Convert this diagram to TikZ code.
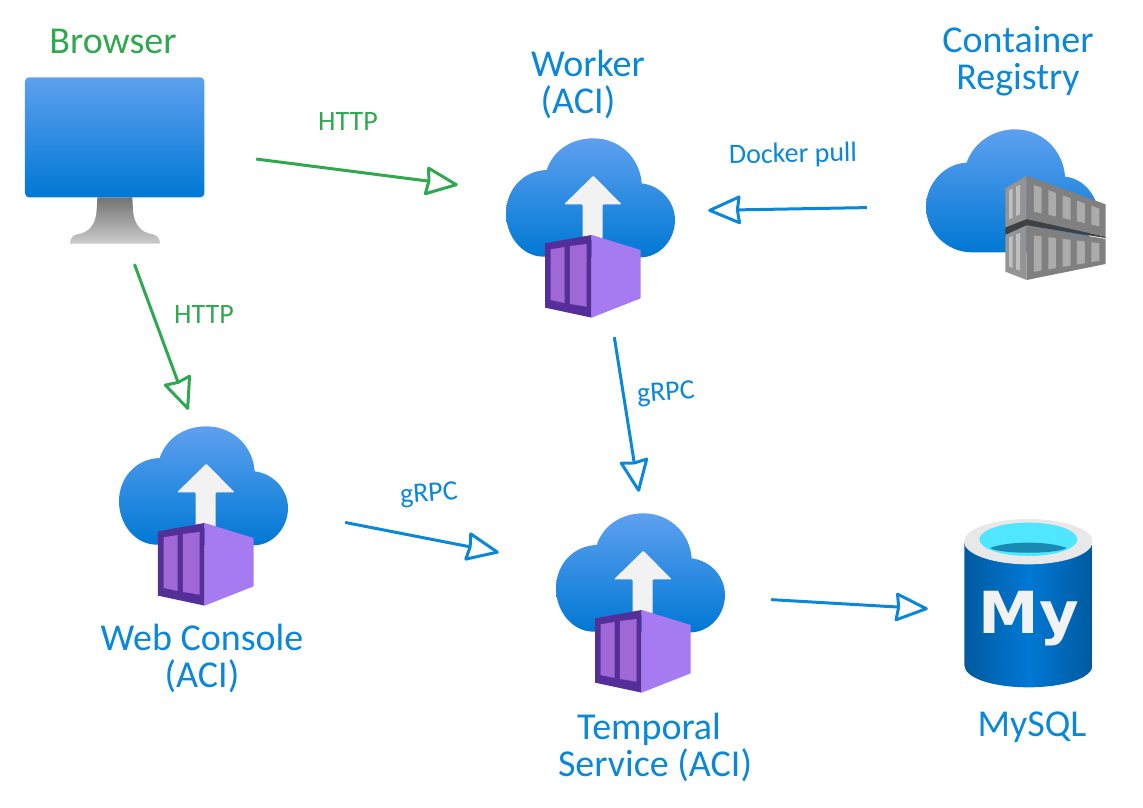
\documentclass[tikz,border=0pt]{standalone}
\usepackage{fontspec}
\setmainfont{Carlito}
\newfontfamily\logofont{DejaVu Sans}[FakeStretch=1.05]
\usetikzlibrary{positioning,arrows.meta}
\definecolor{linkblue}{HTML}{0A87D8}
\definecolor{linkgreen}{HTML}{2FA84F}
\definecolor{cloudtop}{HTML}{5EA0EF}
\definecolor{cloudlow}{HTML}{0078D4}
\definecolor{boxdark}{HTML}{552F99}
\definecolor{boxlight}{HTML}{A67AF0}
\definecolor{boxpanel}{HTML}{A067D6}
\definecolor{dbwater}{HTML}{50E6FF}
\definecolor{dbdeep}{HTML}{198AB3}
\tikzset{
aciicon/.pic={
    \shade[top color=cloudtop,bottom color=cloudlow] (170,150) .. controls (190,90) and (245,55) .. (310,55) .. controls (390,55) and (450,115) .. (455,190) .. controls (512,197) and (555,245) .. (555,300) .. controls (555,362) and (507,412) .. (452,412) -- (160,410) .. controls (98,410) and (48,350) .. (48,280) .. controls (48,208) and (100,152) .. (170,150) -- cycle;
    \fill[black!5,rounded corners=1pt] (310,167) -- (395,253) -- (338,253) -- (338,360) -- (278,360) -- (278,253) -- (222,253) -- cycle;
    \fill[boxdark] (165,370) -- (305,345) -- (305,593) -- (165,563) -- cycle;
    \fill[boxlight] (305,345) -- (452,390) -- (452,535) -- (305,593) -- cycle;
    \fill[boxpanel] (182,388) -- (224,381) -- (224,549) -- (182,540) -- cycle;
    \fill[boxpanel] (240,378) -- (290,372) -- (290,560) -- (240,552) -- cycle;
},
registryicon/.pic={
    \shade[top color=cloudtop,bottom color=cloudlow] (170,128) .. controls (190,68) and (250,28) .. (315,28) .. controls (395,28) and (460,90) .. (465,170) .. controls (520,175) and (565,225) .. (570,300) -- (500,397) -- (185,397) .. controls (110,397) and (48,335) .. (48,260) .. controls (48,190) and (105,130) .. (170,128) -- cycle;
    \fill[black!75] (286,322) -- (350,297) -- (587,350) -- (587,354) -- (350,316) -- (286,345) -- cycle;
    \fill[black!42] (286,205) -- (350,167) -- (350,297) -- (286,322) -- cycle;
    \fill[black!50] (350,167) -- (587,253) -- (587,350) -- (350,297) -- cycle;
    \fill[black!42] (286,345) -- (350,316) -- (350,480) -- (286,455) -- cycle;
    \fill[black!50] (350,316) -- (587,357) -- (587,432) -- (350,480) -- cycle;
    \foreach \a/\b in {372/395,415/438,458/482,501/525,544/568} {
        \fill[black!33] (\a,{187+.363*(\a-350)}) -- (\b,{187+.363*(\b-350)}) -- (\b,{270+.224*(\b-350)}) -- (\a,{270+.224*(\a-350)}) -- cycle;
        \fill[black!33] (\a,{344+.117*(\a-350)}) -- (\b,{344+.117*(\b-350)}) -- (\b,{459-.168*(\b-350)}) -- (\a,{459-.168*(\a-350)}) -- cycle;
    }
    \foreach \a/\b/\c/\d/\e/\f in {297/308/212/205/298/294,318/330/200/195/288/283,297/308/352/347/440/444,318/330/343/339/448/452} {
        \fill[black!25] (\a,\c) -- (\b,\d) -- (\b,\f) -- (\a,\e) -- cycle;
    }
},
mysqlicon/.pic={
    \shade[left color=cloudlow!75!black,right color=cloudlow!75!black,middle color=cloudlow] (43,95) -- (43,465) .. controls (43,505) and (130,532) .. (235,532) .. controls (340,532) and (428,505) .. (428,465) -- (428,95) -- cycle;
    \fill[black!9] (235,95) ellipse [x radius=193,y radius=68];
    \fill[dbwater] (235,88) ellipse [x radius=147,y radius=50];
    \fill[dbdeep] (120,114) .. controls (150,103) and (190,98) .. (235,98) .. controls (280,98) and (320,103) .. (350,114) .. controls (320,133) and (150,133) .. (120,114) -- cycle;
    \node (mysqlmark) [text=black!5,font=\logofont\bfseries\fontsize{58}{58}\selectfont,inner sep=0] at (236,325) {My};
},
browsericon/.pic={
    \shade[top color=black!55,bottom color=black!20] (262,382) -- (260,420) .. controls (258,465) and (235,488) .. (205,492) .. controls (190,494) and (180,505) .. (180,521) -- (450,521) .. controls (450,505) and (440,494) .. (425,492) .. controls (395,488) and (372,465) .. (369,420) -- (367,382) -- cycle;
    \shade[top color=cloudtop,bottom color=cloudlow,rounded corners=4pt] (45,22) rectangle (583,382);
}}
\begin{document}
\begin{tikzpicture}[x=1pt,y=-1pt,
spot/.style={rectangle,inner sep=0},
bigname/.style={font=\fontsize{38}{37}\selectfont,align=center,inner sep=0},
smallname/.style={font=\fontsize{28}{28}\selectfont,inner sep=0},
link/.style={line width=3pt,-{Stealth[open,round,length=35pt,width=30pt,inset=2pt]}}]
\useasboundingbox (0,0) rectangle (1143,808);
% icons
\pic[scale=.3333] at (10,70) {browsericon};
\pic[scale=.3333] at (490,120) {aciicon};
\pic[scale=.3333] at (910,120) {registryicon};
\pic[scale=.3333] at (103,408) {aciicon};
\pic[scale=.3333] at (540,495) {aciicon};
\pic[scale=.3333] at (950,510) {mysqlicon};
% spots the links end on
\node (browser) [spot,minimum width=283pt,minimum height=205pt] at (114.5,161.5) {};
\node (worker) [spot,minimum width=250pt,minimum height=218pt] at (583,228) {};
\node (registry) [spot,minimum width=298pt,minimum height=150pt] at (1016,205) {};
\node (webconsole) [spot,minimum width=284pt,minimum height=210pt] at (203,515) {};
\node (temporal) [spot,minimum width=272pt,minimum height=220pt] at (635,602) {};
\node (mysql) [spot,minimum width=201pt,minimum height=169pt] at (1028.5,603.5) {};
% names
\node (browsername) [bigname,text=linkgreen] at (113,41) {Browser};
\node (workername) [bigname,text=linkblue] at (588,84) {Worker\\\hspace*{-20pt}(ACI)};
\node (registryname) [bigname,text=linkblue] at (1018,61) {Container\\Registry};
\node (webname) [bigname,text=linkblue] at (202,658) {Web Console\\(ACI)};
\node (temporalname) [bigname,text=linkblue] at (655,747) {\hspace*{-12pt}Temporal\\Service (ACI)};
\node (mysqlname) [bigname,text=linkblue] at (1032,727) {MySQL};
% links
\draw[link,linkgreen] (browser.1) -- (worker.161);
\draw[link,linkgreen] (browser.-79.2) -- (webconsole.98);
\draw[link,linkblue] (registry.181) -- (worker.8.6);
\draw[link,linkblue] (worker.-74.6) -- (temporal.88.4);
\draw[link,linkblue] (webconsole.-3.6) -- (temporal.160.3);
\draw[link,linkblue] (temporal.1.7) -- (mysql.183.7);
\node (httpone) [smallname,text=linkgreen] at (348,122) {HTTP};
\node (httptwo) [smallname,text=linkgreen] at (204,315) {HTTP};
\node (pull) [smallname,text=linkblue,rotate=1] at (793,155) {Docker pull};
\node (grpcone) [smallname,text=linkblue,rotate=4] at (666,394) {gRPC};
\node (grpctwo) [smallname,text=linkblue,rotate=4] at (429,495) {gRPC};
\end{tikzpicture}
\end{document}
